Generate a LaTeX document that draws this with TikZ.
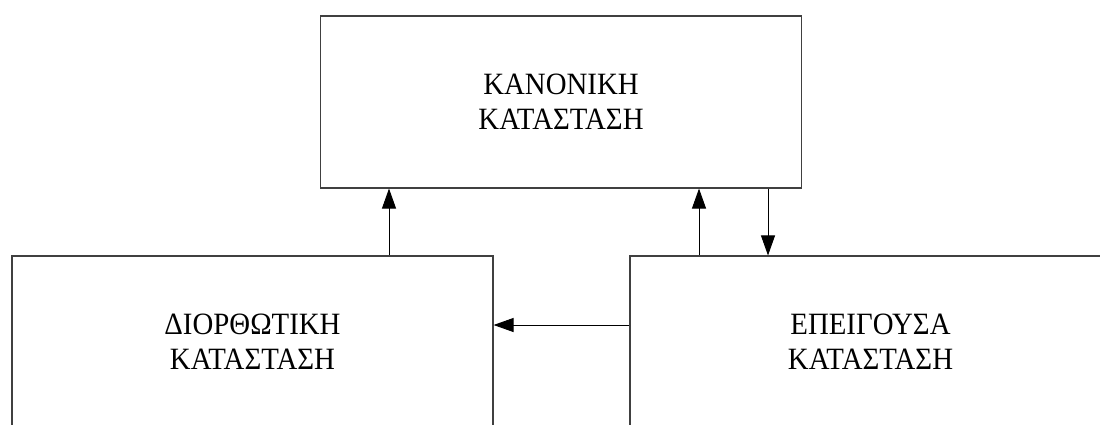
\documentclass[tikz,border=0pt]{standalone}
\usepackage{fontspec}
\setmainfont[FakeStretch=0.93]{Liberation Serif}
\usetikzlibrary{arrows.meta}
\begin{document}
\begin{tikzpicture}[x=1pt,y=1pt,
  statebox/.style={draw=black!75, line width=1.1pt, minimum width=481pt, minimum height=172pt,
    align=center, inner sep=0pt, font=\fontsize{31}{35}\selectfont},
  flow/.style={draw=black, line width=0.9pt, -{Triangle[length=20pt,width=14pt]}}]
  \useasboundingbox (0,0) rectangle (1100,-424);
  % the three states
  \node[statebox] (T) at (561,-102) {ΚΑΝΟΝΙΚΗ\\ΚΑΤΑΣΤΑΣΗ};
  \node[statebox] (L) at (252.5,-342) {ΔΙΟΡΘΩΤΙΚΗ\\ΚΑΤΑΣΤΑΣΗ};
  \node[statebox] (R) at (870.5,-342) {ΕΠΕΙΓΟΥΣΑ\\ΚΑΤΑΣΤΑΣΗ};
  % x positions of the vertical links, y of the horizontal one
  \coordinate (xl) at (389,0);
  \coordinate (xu) at (699,0);
  \coordinate (xd) at (768,0);
  \coordinate (yh) at (0,-325);
  \draw[flow] (xl |- L.north) -- (xl |- T.south);
  \draw[flow] (xu |- R.north) -- (xu |- T.south);
  \draw[flow] (xd |- T.south) -- (xd |- R.north);
  \draw[flow] (R.west |- yh) -- (L.east |- yh);
\end{tikzpicture}
\end{document}
